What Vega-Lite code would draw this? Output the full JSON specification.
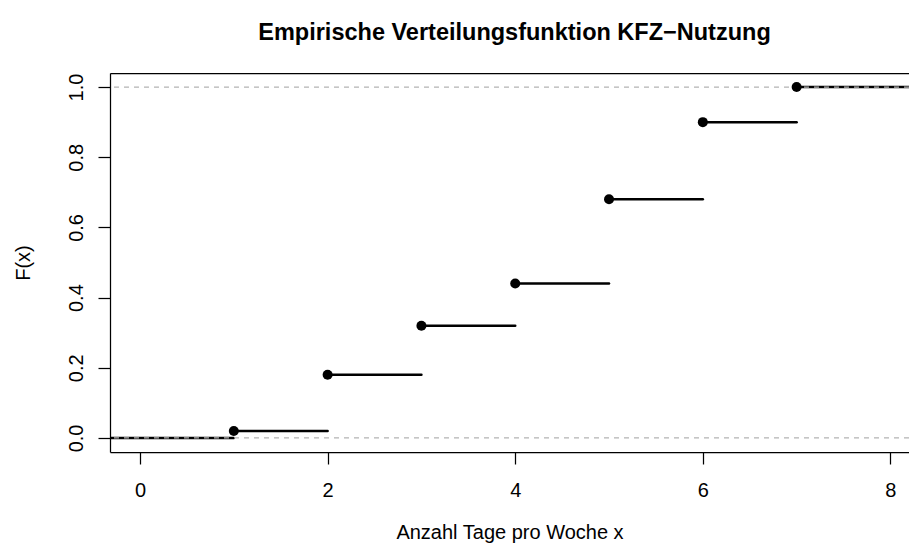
{
  "$schema": "https://vega.github.io/schema/vega-lite/v6.json",
  "width": 799,
  "height": 379,
  "autosize": {"type": "none"},
  "padding": {"left": 110, "top": 73, "right": 0, "bottom": 91},
  "background": "white",
  "config": {
    "font": "Liberation Sans",
    "view": {"stroke": null},
    "axis": {
      "domainColor": "black",
      "domainWidth": 1.25,
      "tickColor": "black",
      "tickWidth": 1.25,
      "tickSize": 12,
      "labelFontSize": 20,
      "labelColor": "black",
      "labelFont": "Liberation Sans",
      "titleFont": "Liberation Sans",
      "titleFontSize": 20,
      "titleFontWeight": "normal",
      "titleColor": "black",
      "grid": false
    }
  },
  "title": {
    "text": "Empirische Verteilungsfunktion KFZ−Nutzung",
    "fontSize": 23.5,
    "fontWeight": "bold",
    "font": "Liberation Sans",
    "color": "black",
    "anchor": "middle",
    "dx": 5,
    "baseline": "alphabetic",
    "offset": 10
  },
  "datasets": {
    "steps": [
      {"x": -0.32, "x2": 1, "F": 0},
      {"x": 1, "x2": 2, "F": 0.02},
      {"x": 2, "x2": 3, "F": 0.18},
      {"x": 3, "x2": 4, "F": 0.32},
      {"x": 4, "x2": 5, "F": 0.44},
      {"x": 5, "x2": 6, "F": 0.68},
      {"x": 6, "x2": 7, "F": 0.9},
      {"x": 7, "x2": 8.32, "F": 1}
    ],
    "points": [
      {"x": 1, "F": 0.02},
      {"x": 2, "F": 0.18},
      {"x": 3, "F": 0.32},
      {"x": 4, "F": 0.44},
      {"x": 5, "F": 0.68},
      {"x": 6, "F": 0.9},
      {"x": 7, "F": 1}
    ],
    "hlines": [
      {"F": 0},
      {"F": 1}
    ]
  },
  "layer": [
    {
      "data": {"name": "steps"},
      "mark": {"type": "rule", "strokeWidth": 2.5, "color": "black", "strokeCap": "round", "clip": true},
      "encoding": {
        "x": {
          "field": "x",
          "type": "quantitative",
          "scale": {"domain": [-0.32, 8.198], "nice": false, "zero": false},
          "axis": {
            "values": [0, 2, 4, 6, 8],
            "labelPadding": 16,
            "labelFlush": false,
            "labelOverlap": false,
            "title": "Anzahl Tage pro Woche  x",
            "titlePadding": 22
          }
        },
        "x2": {"field": "x2"},
        "y": {
          "field": "F",
          "type": "quantitative",
          "scale": {"domain": [-0.04, 1.04], "nice": false, "zero": false},
          "axis": {
            "values": [0, 0.2, 0.4, 0.6, 0.8, 1],
            "format": ".1f",
            "labelAngle": -90,
            "labelPadding": 12,
            "labelFlush": false,
            "labelOverlap": false,
            "title": "F(x)",
            "titlePadding": 33
          }
        }
      }
    },
    {
      "data": {"name": "hlines"},
      "mark": {"type": "rule", "color": "#B3B3B3", "strokeWidth": 1.25, "strokeDash": [5, 5]},
      "encoding": {
        "y": {"field": "F", "type": "quantitative"}
      }
    },
    {
      "data": {"name": "points"},
      "mark": {"type": "circle", "size": 100, "color": "black", "opacity": 1},
      "encoding": {
        "x": {
          "field": "x",
          "type": "quantitative",
          "axis": {"orient": "top", "labels": false, "ticks": false, "title": null, "domain": true}
        },
        "y": {"field": "F", "type": "quantitative"}
      }
    }
  ],
  "resolve": {"axis": {"x": "independent"}}
}
